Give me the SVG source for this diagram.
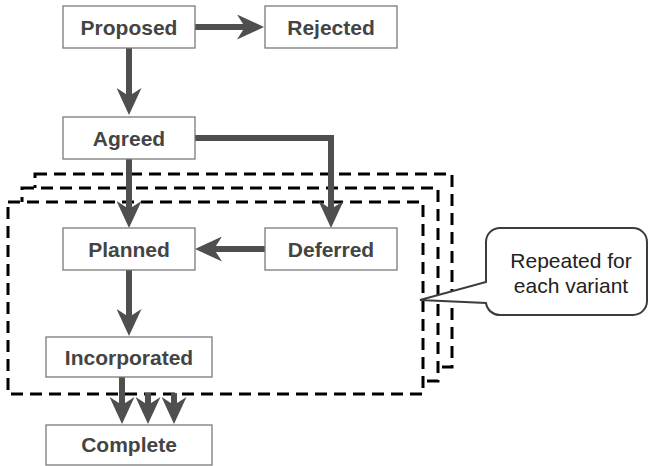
<svg xmlns="http://www.w3.org/2000/svg" width="648" height="466" viewBox="0 0 648 466">
<style>
.box{fill:#fff;stroke:#7a7a7a;stroke-width:1.3}
.lbl{font-family:"Liberation Sans",Arial,sans-serif;font-weight:bold;font-size:21px;fill:#444;text-anchor:middle}
.frame{fill:#fff;stroke:#000;stroke-width:3;stroke-dasharray:12 7}
.con{fill:none;stroke:#4f4f4f;stroke-width:6}
.call{fill:#fff;stroke:#3c3c3c;stroke-width:2}
.ctext{font-family:"Liberation Sans",Arial,sans-serif;font-size:21px;fill:#222;text-anchor:middle}
</style>
<defs>
<marker id="ah" markerUnits="userSpaceOnUse" markerWidth="27" markerHeight="25" viewBox="0 0 27 25" refX="8" refY="12.5" orient="auto">
<path d="M0,0 L27,12.5 L0,25 L8,12.5 Z" fill="#4f4f4f"/>
</marker>
</defs>
<g id="variant-frames">
<rect class="frame" x="35" y="174" width="417" height="193"/>
<rect class="frame" x="22" y="188" width="416" height="193"/>
<rect class="frame" x="8" y="202" width="415" height="192"/>
</g>
<g id="connectors">
<line class="con" x1="195" y1="27" x2="245" y2="27" marker-end="url(#ah)"/>
<line class="con" x1="129" y1="48" x2="129" y2="96" marker-end="url(#ah)"/>
<polyline class="con" points="195,138 331,138 331,209" marker-end="url(#ah)"/>
<line class="con" x1="129" y1="159" x2="129" y2="209" marker-end="url(#ah)"/>
<line class="con" x1="265" y1="249" x2="214" y2="249" marker-end="url(#ah)"/>
<line class="con" x1="129" y1="270" x2="129" y2="317" marker-end="url(#ah)"/>
<line class="con" x1="122" y1="377" x2="122" y2="405" marker-end="url(#ah)"/>
<line class="con" x1="148" y1="393" x2="148" y2="405" marker-end="url(#ah)"/>
<line class="con" x1="174" y1="393" x2="174" y2="405" marker-end="url(#ah)"/>
</g>
<g id="proposed"><rect class="box" x="63" y="6" width="132" height="42"/><text class="lbl" x="129" y="35">Proposed</text></g>
<g id="rejected"><rect class="box" x="265" y="6" width="132" height="42"/><text class="lbl" x="331" y="35">Rejected</text></g>
<g id="agreed"><rect class="box" x="63" y="117" width="132" height="42"/><text class="lbl" x="129" y="146">Agreed</text></g>
<g id="planned"><rect class="box" x="63" y="228" width="132" height="42"/><text class="lbl" x="129" y="257">Planned</text></g>
<g id="deferred"><rect class="box" x="265" y="228" width="132" height="42"/><text class="lbl" x="331" y="257">Deferred</text></g>
<g id="incorporated"><rect class="box" x="46" y="337" width="166" height="40"/><text class="lbl" x="129" y="365">Incorporated</text></g>
<g id="complete"><rect class="box" x="46" y="425" width="166" height="40"/><text class="lbl" x="129" y="452">Complete</text></g>
<g id="callout">
<path class="call" d="M499,228 H633 A14,14 0 0 1 647,242 V301 A14,14 0 0 1 633,315 H500 A14,14 0 0 1 486,303 L420,300 L486,282 V242 A14,14 0 0 1 499,228 Z"/>
<text class="ctext" x="571" y="268">Repeated for</text>
<text class="ctext" x="571" y="293">each variant</text>
</g>
</svg>
